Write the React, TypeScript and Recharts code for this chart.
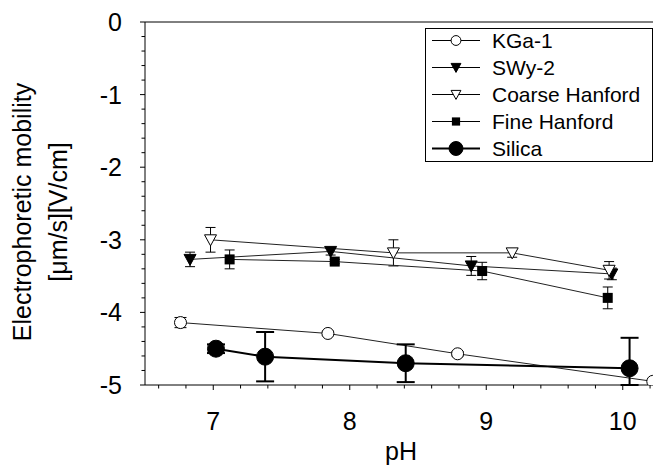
import React from 'react';
import { LineChart, Line, XAxis, YAxis, ErrorBar, ReferenceLine, Legend } from 'recharts';

// ---- data ----
const seriesNames = ['KGa-1', 'SWy-2', 'Coarse Hanford', 'Fine Hanford', 'Silica'];

const kgaPH = [6.76, 7.84, 8.79, 10.22];
const kgaMob = [-4.14, -4.29, -4.57, -4.95];
const kgaErr = [0.07, 0.03, 0.03, 0];

const swyPH = [6.83, 7.86, 8.89, 9.92];
const swyMob = [-3.27, -3.16, -3.36, -3.47];
const swyErr = [0.1, 0.05, 0.13, 0.08];

const coarsePH = [6.98, 8.32, 9.19, 9.9];
const coarseMob = [-3.0, -3.18, -3.18, -3.42];
const coarseErr = [0.17, 0.18, 0.06, 0.12];

const finePH = [7.12, 7.89, 8.97, 9.89];
const fineMob = [-3.27, -3.3, -3.43, -3.8];
const fineErr = [0.13, 0.03, 0.12, 0.15];

const silicaPH = [7.02, 7.38, 8.41, 10.05];
const silicaMob = [-4.5, -4.61, -4.7, -4.77];
// [down, up] error extents (the last one is cut off by the x axis)
const silicaErrDown = [0.06, 0.34, 0.26, 0.23];
const silicaErrUp = [0.06, 0.34, 0.26, 0.42];

const yTicks = [0, -0.2, -0.4, -0.6, -0.8, -1, -1.2, -1.4, -1.6, -1.8, -2, -2.2, -2.4, -2.6, -2.8, -3, -3.2, -3.4, -3.6, -3.8, -4, -4.2, -4.4, -4.6, -4.8, -5];
const xTicks = [6.6, 6.8, 7, 7.2, 7.4, 7.6, 7.8, 8, 8.2, 8.4, 8.6, 8.8, 9, 9.2, 9.4, 9.6, 9.8, 10, 10.2, 10.4];

const build = (ph: number[], mob: number[], err: (number | number[])[]) =>
  ph.map((x, i) => ({ x, y: mob[i], e: err[i] }));

const kga = build(kgaPH, kgaMob, kgaErr);
const swy = build(swyPH, swyMob, swyErr);
const coarse = build(coarsePH, coarseMob, coarseErr);
const fine = build(finePH, fineMob, fineErr);
const silica = build(
  silicaPH,
  silicaMob,
  silicaErrDown.map((d, i) => [d, silicaErrUp[i]])
);

const FONT = '"Liberation Sans", Arial, Helvetica, sans-serif';

type ShapeKind = 'circleOpen' | 'triFilled' | 'triOpen' | 'square' | 'circleBig';

function Marker({ kind, cx, cy, s = 1 }: { kind: ShapeKind; cx: number; cy: number; s?: number }) {
  if (cx == null || cy == null) return null;
  switch (kind) {
    case 'circleOpen':
      return <circle cx={cx} cy={cy} r={6 * s} fill="#fff" stroke="#000" strokeWidth={1} />;
    case 'circleBig':
      return <circle cx={cx} cy={cy} r={8.5 * s} fill="#000" stroke="#000" strokeWidth={1} />;
    case 'square':
      return <rect x={cx - 5 * s} y={cy - 5 * s} width={10 * s} height={10 * s} fill="#000" />;
    case 'triFilled':
    case 'triOpen': {
      const w = 6 * s;
      const h = 5 * s;
      const pts = `${cx - w},${cy - h} ${cx + w},${cy - h} ${cx},${cy + 6 * s}`;
      return (
        <polygon
          points={pts}
          fill={kind === 'triFilled' ? '#000' : '#fff'}
          stroke="#000"
          strokeWidth={1}
        />
      );
    }
  }
  return null;
}

const dotFor = (kind: ShapeKind) => (p: any) =>
  <Marker key={`${kind}-${p.index}`} kind={kind} cx={p.cx} cy={p.cy} />;

const isInt = (v: number) => Math.abs(v - Math.round(v)) < 1e-6;

function YTick(props: any) {
  const { x, y, payload } = props;
  const v = payload.value as number;
  const major = isInt(v);
  return (
    <g>
      <line x1={x - (major ? 5 : 3.5)} x2={x} y1={y} y2={y} stroke="#000" strokeWidth={1} />
      {major && (
        <text x={x - 23} y={y + 9} textAnchor="end" fontSize={25} fontFamily={FONT} fill="#000">
          {String(Math.round(v))}
        </text>
      )}
    </g>
  );
}

function XTick(props: any) {
  const { x, y, payload } = props;
  const v = payload.value as number;
  const major = isInt(v);
  return (
    <g>
      <line x1={x} x2={x} y1={y} y2={y + (major ? 5 : 3.5)} stroke="#000" strokeWidth={1} />
      {major && (
        <text x={x} y={y + 45} textAnchor="middle" fontSize={25} fontFamily={FONT} fill="#000">
          {String(Math.round(v))}
        </text>
      )}
    </g>
  );
}

const legendKinds: ShapeKind[] = ['circleOpen', 'triFilled', 'triOpen', 'square', 'circleBig'];

function LegendBox() {
  return (
    <svg width={228} height={134} style={{ display: 'block' }}>
      <rect x={0.5} y={0.5} width={227} height={133} fill="#fff" stroke="#000" strokeWidth={1} />
      {seriesNames.map((name, i) => {
        const cy = 12.5 + i * 27;
        return (
          <g key={name}>
            <line x1={7} x2={55} y1={cy} y2={cy} stroke="#000" strokeWidth={i === 4 ? 2 : 1} />
            <Marker kind={legendKinds[i]} cx={31} cy={cy} s={0.82} />
            <text x={67} y={cy + 7.5} fontSize={21} fontFamily={FONT} fill="#000">
              {name}
            </text>
          </g>
        );
      })}
    </svg>
  );
}

export default function App() {
  return (
    <div
      style={{
        position: 'absolute',
        left: 0,
        top: 0,
        width: 653,
        height: 467,
        overflow: 'hidden',
        background: '#fff',
      }}
    >
      <LineChart width={691} height={467} margin={{ top: 22, right: 0, bottom: 22, left: 0 }}>
        <XAxis
          type="number"
          dataKey="x"
          domain={[6.5, 10.5]}
          allowDataOverflow
          ticks={xTicks}
          interval={0}
          tickSize={0}
          tickMargin={0}
          tickLine={false}
          tick={<XTick />}
          height={60}
          axisLine={{ stroke: '#000', strokeWidth: 1 }}
          label={{
            content: () => (
              <text x={401} y={460} textAnchor="middle" fontSize={25} fontFamily={FONT} fill="#000">
                pH
              </text>
            ),
          }}
        />
        <YAxis
          type="number"
          domain={[-5, 0]}
          allowDataOverflow
          ticks={yTicks}
          interval={0}
          tickSize={0}
          tickMargin={0}
          tickLine={false}
          tick={<YTick />}
          width={145}
          axisLine={{ stroke: '#000', strokeWidth: 1 }}
          label={{
            content: () => (
              <g fontSize={25} fontFamily={FONT} fill="#000">
                <text x={31} y={212} textAnchor="middle" transform="rotate(-90, 31, 212)">
                  Electrophoretic mobility
                </text>
                <text x={67} y={212} textAnchor="middle" transform="rotate(-90, 67, 212)">
                  [μm/s][V/cm]
                </text>
              </g>
            ),
          }}
        />
        <ReferenceLine y={0} stroke="#000" strokeWidth={1} ifOverflow="visible" />
        <Legend
          layout="vertical"
          align="center"
          verticalAlign="middle"
          content={() => <LegendBox />}
          wrapperStyle={{ position: 'absolute', left: 425, top: 28, width: 228, height: 134 }}
        />
        <Line
          data={kga}
          dataKey="y"
          name={seriesNames[0]}
          stroke="#222"
          strokeWidth={1}
          dot={dotFor('circleOpen')}
          activeDot={false}
          isAnimationActive={false}
        >
          <ErrorBar dataKey="e" direction="y" width={6} stroke="#000" strokeWidth={1} />
        </Line>
        <Line
          data={swy}
          dataKey="y"
          name={seriesNames[1]}
          stroke="#222"
          strokeWidth={1}
          dot={dotFor('triFilled')}
          activeDot={false}
          isAnimationActive={false}
        >
          <ErrorBar dataKey="e" direction="y" width={5} stroke="#000" strokeWidth={1} />
        </Line>
        <Line
          data={coarse}
          dataKey="y"
          name={seriesNames[2]}
          stroke="#222"
          strokeWidth={1}
          dot={dotFor('triOpen')}
          activeDot={false}
          isAnimationActive={false}
        >
          <ErrorBar dataKey="e" direction="y" width={5} stroke="#000" strokeWidth={1} />
        </Line>
        <Line
          data={fine}
          dataKey="y"
          name={seriesNames[3]}
          stroke="#222"
          strokeWidth={1}
          dot={dotFor('square')}
          activeDot={false}
          isAnimationActive={false}
        >
          <ErrorBar dataKey="e" direction="y" width={5} stroke="#000" strokeWidth={1} />
        </Line>
        <Line
          data={silica}
          dataKey="y"
          name={seriesNames[4]}
          stroke="#000"
          strokeWidth={2}
          dot={dotFor('circleBig')}
          activeDot={false}
          isAnimationActive={false}
        >
          <ErrorBar dataKey="e" direction="y" width={9} stroke="#000" strokeWidth={2} />
        </Line>
      </LineChart>
    </div>
  );
}
